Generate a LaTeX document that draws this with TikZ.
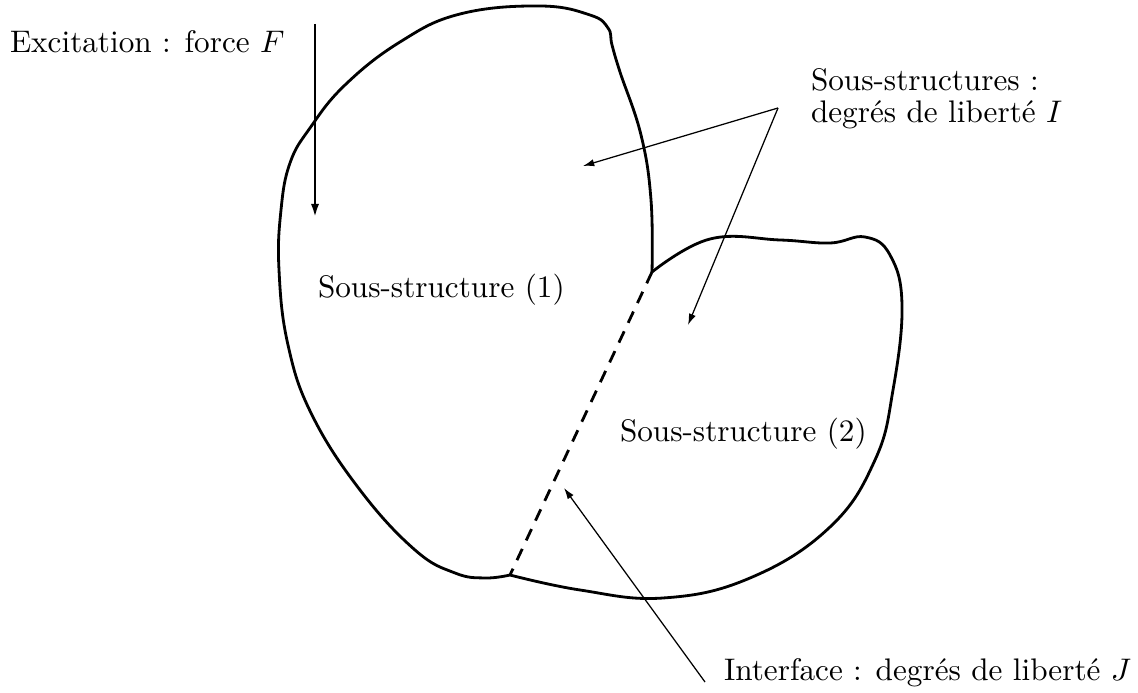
\documentclass[tikz,border=0pt]{standalone}
\usetikzlibrary{arrows.meta}
\begin{document}
\begin{tikzpicture}[x=0.3205pt,y=-0.3205pt,
  outline/.style={line width=0.9pt,line join=round},
  iface/.style={line width=0.9pt,dash pattern=on 4pt off 3pt},
  force/.style={line width=0.9pt,-{Latex[length=4.5pt,width=2.6pt]}},
  pointer/.style={line width=0.4pt,-{Latex[length=3.6pt,width=2.3pt]}},
  lbl/.style={anchor=base west,inner sep=0pt,outer sep=0pt}]
\useasboundingbox (0,0) rectangle (1138,693);
% junctions
\coordinate (jt) at (652,272);
\coordinate (jb) at (510,575);
% sub-structure 1 outline
\draw[outline] plot[smooth,tension=0.7] coordinates {
  (652,272) (651,200) (641,135) (620,72) (612,45) (608,28) (590,15)
  (540,6) (460,14) (400,42) (345,85) (310,128) (290,163)
  (281,210) (279,270) (288,345) (312,415) (360,490)
  (415,550) (455,573) (485,578) (510,575)};
% sub-structure 2 outline
\draw[outline] plot[smooth,tension=0.7] coordinates {
  (652,272) (710,239) (780,240) (830,243) (865,237) (890,255)
  (902,305) (893,390) (875,460) (830,527) (750,578) (663,598)
  (580,590) (510,575)};
% interface
\draw[iface] (jt) -- (jb);
% labels
\node[lbl] (exc) at (10,53) {Excitation : force $F$};
\node[lbl] (ss1) at (318,298) {Sous-structure (1)};
\node[lbl] (ss2) at (620,442) {Sous-structure (2)};
\node[lbl] (ssa) at (811,91) {Sous-structures :};
\node[lbl] (ssb) at (811,123) {degrés de liberté $I$};
\node[lbl] (itf) at (724,681) {Interface : degrés de liberté $J$};
% arrow points
\coordinate (ftop) at (315,24);
\coordinate (ftip) at (315,218);
\coordinate (sroot) at (778,108);
\coordinate (s1tip) at (583,166);
\coordinate (s2tip) at (688,325);
\coordinate (iroot) at (705,682);
\coordinate (itip) at (564,488);
\draw[force] (ftop) -- (ftip);
\draw[pointer] (sroot) -- (s1tip);
\draw[pointer] (sroot) -- (s2tip);
\draw[pointer] (iroot) -- (itip);
\end{tikzpicture}
\end{document}
